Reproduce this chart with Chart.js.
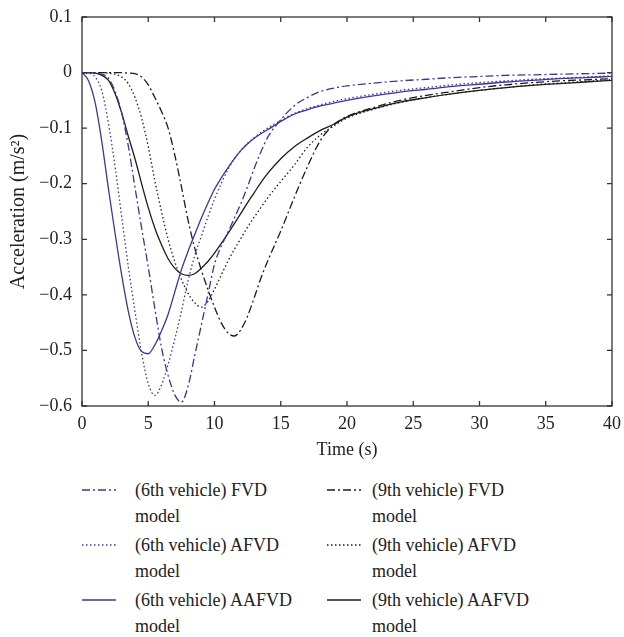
<!DOCTYPE html>
<html>
<head>
<meta charset="utf-8">
<script src="https://cdn.jsdelivr.net/npm/chart.js@4.4.1/dist/chart.umd.min.js"></script>
<style>
  body { margin: 0; background: #fff; }
  #wrap { position: relative; width: 624px; height: 637px; }
  #chart { position: absolute; left: 0; top: 0; }
  .item { position: absolute; font-family: 'Liberation Serif', serif; font-size: 18px; line-height: 26px; color: #222; }
  .item canvas { position: absolute; left: 0; top: 8px; }
  .item span { position: absolute; white-space: nowrap; }
</style>
</head>
<body>
<div id="wrap">
  <canvas id="chart" width="624" height="470"></canvas>
  <div id="legend"></div>
</div>
<script>
// time samples (s)
const times = [0, 0.5, 1, 1.5, 2, 2.5, 3, 3.5, 4, 4.5, 5, 5.5, 6, 6.5, 7, 7.5, 8, 8.5, 9, 9.5,
  10, 10.5, 11, 11.5, 12, 12.5, 13, 13.5, 14, 15, 16, 17, 18, 19, 20, 22, 24, 26, 28, 30,
  32, 34, 36, 38, 40];

// acceleration (m/s^2)
const fvd6 = [0, 0, -0.001, -0.003, -0.01, -0.034, -0.073, -0.133, -0.207, -0.28, -0.35, -0.425, -0.495, -0.545, -0.58, -0.593, -0.565, -0.51, -0.455, -0.4,
  -0.345, -0.313, -0.288, -0.262, -0.235, -0.205, -0.172, -0.143, -0.117, -0.085, -0.06, -0.045, -0.034, -0.028, -0.024, -0.019, -0.015, -0.012, -0.009, -0.007,
  -0.005, -0.004, -0.003, -0.002, -0.001];
const afvd6 = [0, -0.001, -0.008, -0.033, -0.092, -0.17, -0.26, -0.35, -0.43, -0.505, -0.56, -0.581, -0.562, -0.525, -0.48, -0.43, -0.375, -0.33, -0.295, -0.26,
  -0.228, -0.2, -0.175, -0.155, -0.14, -0.127, -0.117, -0.108, -0.1, -0.086, -0.074, -0.065, -0.058, -0.052, -0.047, -0.039, -0.032, -0.027, -0.022, -0.018,
  -0.015, -0.012, -0.01, -0.008, -0.006];
const aafvd6 = [0, -0.015, -0.055, -0.125, -0.21, -0.29, -0.365, -0.43, -0.477, -0.502, -0.506, -0.49, -0.465, -0.435, -0.395, -0.355, -0.322, -0.292, -0.262, -0.235,
  -0.21, -0.19, -0.172, -0.155, -0.14, -0.128, -0.118, -0.11, -0.103, -0.088, -0.075, -0.067, -0.06, -0.055, -0.05, -0.042, -0.035, -0.03, -0.025, -0.021,
  -0.017, -0.014, -0.011, -0.009, -0.007];
const fvd9 = [0, 0, 0, 0, 0, 0, 0, -0.001, -0.002, -0.008, -0.022, -0.045, -0.07, -0.1, -0.148, -0.205, -0.265, -0.315, -0.355, -0.39,
  -0.422, -0.45, -0.468, -0.474, -0.462, -0.438, -0.405, -0.37, -0.34, -0.285, -0.226, -0.17, -0.122, -0.094, -0.079, -0.063, -0.05, -0.041, -0.034, -0.027,
  -0.022, -0.018, -0.015, -0.013, -0.011];
const afvd9 = [0, 0, 0, 0, -0.001, -0.003, -0.008, -0.02, -0.045, -0.082, -0.133, -0.195, -0.25, -0.3, -0.34, -0.372, -0.397, -0.414, -0.422, -0.412,
  -0.39, -0.365, -0.34, -0.318, -0.298, -0.278, -0.26, -0.243, -0.226, -0.196, -0.167, -0.135, -0.112, -0.096, -0.082, -0.066, -0.054, -0.045, -0.038, -0.032,
  -0.027, -0.022, -0.019, -0.016, -0.013];
const aafvd9 = [0, 0, -0.001, -0.005, -0.014, -0.038, -0.073, -0.115, -0.155, -0.2, -0.243, -0.28, -0.31, -0.335, -0.352, -0.362, -0.365, -0.362, -0.352, -0.34,
  -0.325, -0.308, -0.29, -0.272, -0.253, -0.234, -0.216, -0.198, -0.182, -0.155, -0.134, -0.118, -0.104, -0.093, -0.08, -0.065, -0.053, -0.045, -0.038, -0.032,
  -0.027, -0.023, -0.02, -0.017, -0.014];

const xTicks = [0, 5, 10, 15, 20, 25, 30, 35, 40];
const yTicks = [0.1, 0, -0.1, -0.2, -0.3, -0.4, -0.5, -0.6];

const BLUE = '#3a35a0';
const BLACK = '#1c1c1c';
const DASHDOT = [8, 3, 2, 3];
const DOT = [1.5, 2.5];
const FONT = "'Liberation Serif', serif";

const series = [
  { label: ['(6th vehicle) FVD', 'model'], values: fvd6, color: BLUE, dash: DASHDOT },
  { label: ['(6th vehicle) AFVD', 'model'], values: afvd6, color: BLUE, dash: DOT },
  { label: ['(6th vehicle) AAFVD', 'model'], values: aafvd6, color: BLUE, dash: [] },
  { label: ['(9th vehicle) FVD', 'model'], values: fvd9, color: BLACK, dash: DASHDOT },
  { label: ['(9th vehicle) AFVD', 'model'], values: afvd9, color: BLACK, dash: DOT },
  { label: ['(9th vehicle) AAFVD', 'model'], values: aafvd9, color: BLACK, dash: [] }
];

// box around the plot with inward ticks on every side
const frameTicks = {
  id: 'frameTicks',
  afterDraw(chart) {
    const { ctx, chartArea: a, scales: { x, y } } = chart;
    ctx.save();
    ctx.strokeStyle = '#333';
    ctx.lineWidth = 1.3;
    ctx.strokeRect(a.left, a.top, a.right - a.left, a.bottom - a.top);
    ctx.beginPath();
    xTicks.forEach(v => {
      const px = x.getPixelForValue(v);
      ctx.moveTo(px, a.bottom); ctx.lineTo(px, a.bottom - 5);
      ctx.moveTo(px, a.top); ctx.lineTo(px, a.top + 5);
    });
    yTicks.forEach(v => {
      const py = y.getPixelForValue(v);
      ctx.moveTo(a.left, py); ctx.lineTo(a.left + 5, py);
      ctx.moveTo(a.right, py); ctx.lineTo(a.right - 5, py);
    });
    ctx.stroke();
    ctx.restore();
  }
};

const fmt = v => {
  const r = Math.round(v * 10) / 10;
  if (r === 0) return '0';
  return (r < 0 ? '\u2212' : '') + Math.abs(r).toFixed(1);
};

const chart = new Chart(document.getElementById('chart'), {
  type: 'line',
  data: {
    datasets: series.map(s => ({
      label: s.label.join(' '),
      data: times.map((t, i) => ({ x: t, y: s.values[i] })),
      borderColor: s.color,
      borderWidth: 1.3,
      borderDash: s.dash,
      pointRadius: 0,
      fill: false,
      cubicInterpolationMode: 'monotone'
    }))
  },
  options: {
    responsive: false,
    animation: false,
    layout: { padding: { top: 17, right: 12, left: 0, bottom: 0 } },
    plugins: { legend: { display: false }, tooltip: { enabled: false } },
    scales: {
      x: {
        type: 'linear',
        min: 0, max: 40,
        afterFit: s => { s.height = 64; s.paddingLeft = 0; s.paddingRight = 0; },
        afterBuildTicks: s => { s.ticks = xTicks.map(v => ({ value: v })); },
        grid: { display: false, drawTicks: false },
        border: { display: false },
        ticks: { padding: 7, color: '#222', font: { family: FONT, size: 18 }, maxRotation: 0 },
        title: { display: true, text: 'Time (s)', color: '#222', padding: { bottom: 9 }, font: { family: FONT, size: 18 } }
      },
      y: {
        type: 'linear',
        min: -0.6, max: 0.1,
        afterFit: s => { s.width = 82; s.paddingTop = 0; s.paddingBottom = 0; },
        afterBuildTicks: s => { s.ticks = yTicks.map(v => ({ value: v })); },
        grid: { display: false, drawTicks: false },
        border: { display: false },
        ticks: { padding: 10, color: '#222', font: { family: FONT, size: 18 }, callback: fmt },
        title: { display: true, text: 'Acceleration (m/s\u00b2)', color: '#222', padding: { top: 7 }, font: { family: FONT, size: 20 } }
      }
    }
  },
  plugins: [frameTicks]
});

// legend built from the chart's datasets, two columns of three rows
const legend = document.getElementById('legend');
const colX = [82, 327];
const rowY = [477, 532, 587];
chart.data.datasets.forEach((ds, i) => {
  const col = Math.floor(i / 3), row = i % 3;
  const item = document.createElement('div');
  item.className = 'item';
  item.style.left = colX[col] + 'px';
  item.style.top = rowY[row] + 'px';
  const c = document.createElement('canvas');
  c.width = 34; c.height = 10;
  const g = c.getContext('2d');
  g.strokeStyle = ds.borderColor;
  g.lineWidth = ds.borderWidth;
  g.setLineDash(ds.borderDash);
  g.beginPath(); g.moveTo(0, 5); g.lineTo(34, 5); g.stroke();
  item.appendChild(c);
  const sp = document.createElement('span');
  sp.style.left = (col === 0 ? 53 : 45) + 'px';
  sp.innerHTML = series[i].label.join('<br>');
  item.appendChild(sp);
  legend.appendChild(item);
});
</script>
</body>
</html>
